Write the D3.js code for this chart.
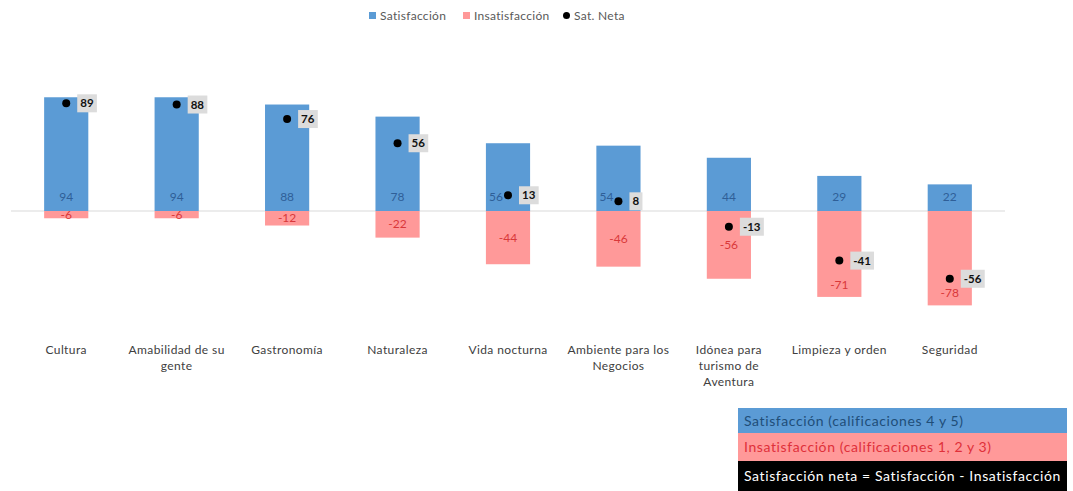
<!DOCTYPE html>
<html>
<head>
<meta charset="utf-8">
<script src="https://cdn.jsdelivr.net/npm/d3@7"></script>
<style>
  html, body { margin: 0; padding: 0; background: #fff; }
  svg { display: block; font-family: Lato, "Open Sans", sans-serif; }
</style>
</head>
<body>
<svg id="chart" width="1073" height="491"></svg>
<script>
// Satisfaction survey: per-attribute satisfaction, dissatisfaction and net satisfaction
const categories = [
  "Cultura", "Amabilidad de su gente", "Gastronomía", "Naturaleza", "Vida nocturna",
  "Ambiente para los Negocios", "Idónea para turismo de Aventura", "Limpieza y orden", "Seguridad"
];
const satisfaccion   = [94, 94, 88, 78, 56, 54, 44, 29, 22];
const insatisfaccion = [-6, -6, -12, -22, -44, -46, -56, -71, -78];
const satNeta        = [89, 88, 76, 56, 13, 8, -13, -41, -56];

const legendLabels = ["Satisfacción", "Insatisfacción", "Sat. Neta"];
const noteLines = [
  "Satisfacción (calificaciones 4 y 5)",
  "Insatisfacción (calificaciones 1, 2 y 3)",
  "Satisfacción neta = Satisfacción - Insatisfacción"
];

const BLUE = "#5b9bd5", PINK = "#ff9999";
const svg = d3.select("#chart");

const x = d3.scaleBand().domain(categories).range([11, 1005])
  .paddingInner(0.6).paddingOuter(0.3);
const y = d3.scaleLinear().domain([-100, 100]).range([332, 90]);
const bw = x.bandwidth();

// zero baseline
svg.append("line")
  .attr("x1", 11).attr("x2", 1005)
  .attr("y1", y(0)).attr("y2", y(0))
  .attr("stroke", "#d9d9d9").attr("stroke-width", 1);

// satisfaction bars (positive)
svg.append("g").selectAll("rect").data(categories).join("rect")
  .attr("x", d => x(d)).attr("width", bw)
  .attr("y", (d, i) => y(satisfaccion[i]))
  .attr("height", (d, i) => y(0) - y(satisfaccion[i]))
  .attr("fill", BLUE);

// dissatisfaction bars (negative)
svg.append("g").selectAll("rect").data(categories).join("rect")
  .attr("x", d => x(d)).attr("width", bw)
  .attr("y", y(0))
  .attr("height", (d, i) => y(insatisfaccion[i]) - y(0))
  .attr("fill", PINK);

// satisfaction values near the baseline; pushed left when the net dot sits on them
const satLabelY = y(0) - 10;
svg.append("g").selectAll("text").data(categories).join("text")
  .attr("x", (d, i) => Math.abs(y(satNeta[i]) - (satLabelY - 4)) < 10 ? x(d) + bw / 2 - 5 : x(d) + bw / 2)
  .attr("y", satLabelY)
  .attr("text-anchor", (d, i) => Math.abs(y(satNeta[i]) - (satLabelY - 4)) < 10 ? "end" : "middle")
  .attr("font-size", 12).attr("fill", "#2f5f98")
  .text((d, i) => satisfaccion[i]);

// dissatisfaction values: centred, or at the bar end when the net dot sits in the lower half
svg.append("g").selectAll("text").data(categories).join("text")
  .attr("x", d => x(d) + bw / 2)
  .attr("y", (d, i) => {
    const v = insatisfaccion[i], n = satNeta[i];
    const atEnd = n < 0 && Math.abs(n) > Math.abs(v) / 2;
    return atEnd ? y(v) - 8 : y(v / 2) + 4;
  })
  .attr("text-anchor", "middle")
  .attr("font-size", 12).attr("fill", "#d9383a")
  .text((d, i) => insatisfaccion[i]);

// net satisfaction dots with boxed labels
const net = svg.append("g").selectAll("g").data(categories).join("g")
  .attr("transform", (d, i) => `translate(${x(d) + bw / 2},${y(satNeta[i])})`);
net.append("circle").attr("r", 4).attr("fill", "#000");
const netText = net.append("text")
  .attr("x", 14).attr("dy", "0.35em")
  .attr("font-size", 11.5).attr("font-weight", "bold").attr("fill", "#111")
  .text((d, i) => satNeta[i]);
netText.each(function () {
  const b = this.getBBox();
  d3.select(this.parentNode).insert("rect", "text")
    .attr("x", b.x - 3).attr("y", -9)
    .attr("width", b.width + 6).attr("height", 18)
    .attr("fill", "#dcdcdc");
});

// category labels, wrapped
function wrap(sel, width) {
  sel.each(function () {
    const t = d3.select(this);
    const words = t.text().split(/\s+/);
    t.text(null);
    let line = [];
    let ts = t.append("tspan").attr("x", t.attr("x")).attr("dy", 0);
    for (const w of words) {
      line.push(w);
      ts.text(line.join(" "));
      if (ts.node().getComputedTextLength() > width && line.length > 1) {
        line.pop();
        ts.text(line.join(" "));
        line = [w];
        ts = t.append("tspan").attr("x", t.attr("x")).attr("dy", 16).text(w);
      }
    }
  });
}
svg.append("g").selectAll("text").data(categories).join("text")
  .attr("x", d => x(d) + bw / 2)
  .attr("y", 354)
  .attr("text-anchor", "middle")
  .attr("font-size", 12).attr("letter-spacing", 0.4).attr("fill", "#404040")
  .text(d => d)
  .call(wrap, 104);

// top legend
const lg = svg.append("g").attr("font-size", 12).attr("letter-spacing", 0.3).attr("fill", "#595959");
const lgX = [369, 463, 563];
lg.append("rect").attr("x", lgX[0]).attr("y", 12).attr("width", 7).attr("height", 7).attr("fill", BLUE);
lg.append("rect").attr("x", lgX[1]).attr("y", 12).attr("width", 7).attr("height", 7).attr("fill", PINK);
lg.append("circle").attr("cx", lgX[2] + 3.5).attr("cy", 15.5).attr("r", 3.5).attr("fill", "#000");
legendLabels.forEach((t, i) => {
  lg.append("text").attr("x", lgX[i] + 11).attr("y", 20).text(t);
});

// explanatory note boxes
const notes = svg.append("g");
const noteFill = [BLUE, PINK, "#000"];
const noteColor = ["#1f4e79", "#e0303a", "#fff"];
const noteY = [408, 433, 461], noteH = [25, 28, 30];
noteLines.forEach((t, i) => {
  notes.append("rect").attr("x", 738).attr("y", noteY[i])
    .attr("width", 329).attr("height", noteH[i]).attr("fill", noteFill[i]);
  notes.append("text").attr("x", 744).attr("y", noteY[i] + noteH[i] / 2 + 5)
    .attr("font-size", 14).attr("letter-spacing", 0.6)
    .attr("fill", noteColor[i]).text(t);
});
</script>
</body>
</html>
